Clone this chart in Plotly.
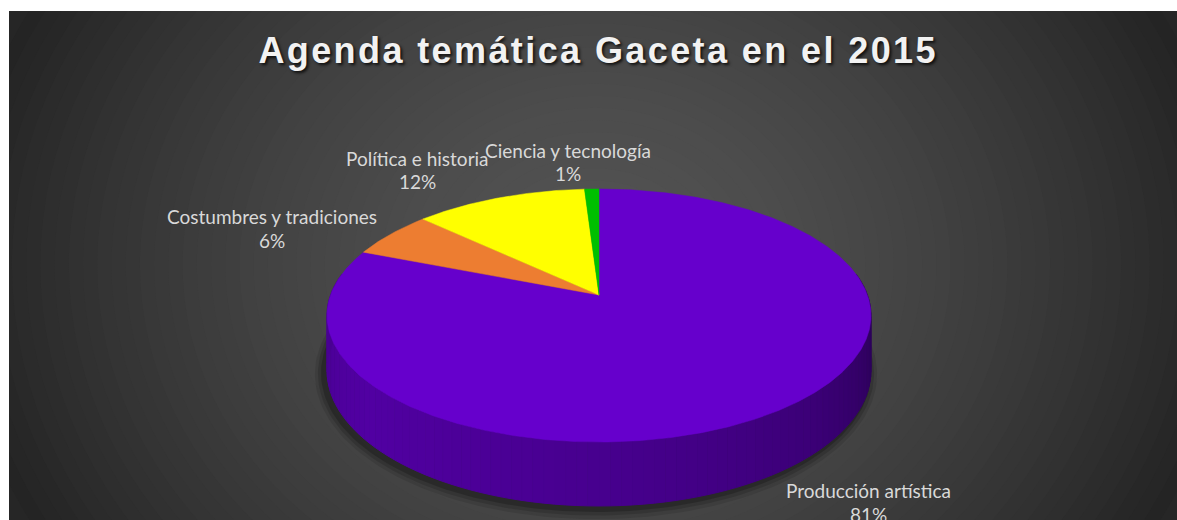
import numpy as np
import plotly.graph_objects as go

# ---------------- data ----------------
categories = ["Producción artística", "Costumbres y tradiciones",
              "Política e historia", "Ciencia y tecnología"]
values = [81, 6, 12, 1]
title_text = "Agenda temática Gaceta en el 2015"

# ---------------- style ----------------
slice_colors = ["#6600CC", "#ED7D31", "#FFFF00", "#00C000"]
# label anchor positions in pixel space: (x, y of name, y of percent)
label_positions = [(868, 490, 514), (272, 216, 240), (417, 158, 181), (568, 150, 173)]

W, H = 1177, 520
LEFT, TOP = 9, 11
CX, CY = 599, 295          # projected pie centre
A, B, K = 268.4, 123.2, 0.162
DEPTH = 53.6


def proj(theta_deg, depth=0.0, grow=0.0):
    t = np.radians(theta_deg)
    xd = np.sin(t)
    zd = -np.cos(t)
    s = 1.0 / (1.0 - K * zd)
    return CX + (A + grow) * xd * s, CY + (B + grow) * zd * s + depth * s


def hex_rgb(h):
    h = h.lstrip("#")
    return tuple(int(h[i:i + 2], 16) for i in (0, 2, 4))


fig = go.Figure()

# background radial gradient (shapes)
shapes = []
N = 45
gcx, gcy, rx_out, ry_f = 595, 265, 640, 0.85
for i in range(N):
    r = 1 - i / N
    v = int(round(83 - 47 * r ** 1.6))
    rx = rx_out * r
    ry = rx * ry_f
    shapes.append(dict(type="circle", xref="x", yref="y", layer="below",
                       x0=gcx - rx, x1=gcx + rx, y0=gcy - ry, y1=gcy + ry,
                       fillcolor=f"rgb({v},{v},{v})", line=dict(width=0)))

# shadow under pie
for grow, op in [(9, 0.10), (6, 0.14), (3, 0.2)]:
    th = np.linspace(0, 360, 241)
    sx, sy = proj(th, DEPTH + 2, grow)
    fig.add_trace(go.Scatter(x=sx - 3, y=sy, fill="toself", mode="lines",
                             line=dict(width=0), fillcolor=f"rgba(0,0,0,{op})",
                             hoverinfo="skip", showlegend=False))

# slice angles (clockwise from 12 o'clock)
total = float(sum(values))
bounds = np.concatenate([[0], np.cumsum(values) / total * 360.0])

# side shading along the visible rim
shade_th = [60, 100, 140, 180, 230, 262, 300]
shade_f = [0.42, 0.45, 0.60, 0.70, 0.80, 0.73, 0.70]

step = 2.0
th = 80.0
while th < 280.0 - 1e-9:
    t1, t2 = th, th + step
    mid = (t1 + t2) / 2
    idx = int(np.searchsorted(bounds, mid, side="right") - 1)
    idx = min(max(idx, 0), len(values) - 1)
    r, g, b = hex_rgb(slice_colors[idx])
    f = float(np.interp(mid, shade_th, shade_f))
    col = f"rgb({int(r * f)},{int(g * f)},{int(b * f)})"
    a_th = np.linspace(t1, t2, 3)
    x_top, y_top = proj(a_th)
    x_bot, y_bot = proj(a_th[::-1], DEPTH)
    fig.add_trace(go.Scatter(x=np.concatenate([x_top, x_bot]),
                             y=np.concatenate([y_top, y_bot]),
                             fill="toself", mode="lines",
                             line=dict(width=1, color=col), fillcolor=col,
                             hoverinfo="skip", showlegend=False))
    th += step

# top faces
for i, cat in enumerate(categories):
    a_th = np.linspace(bounds[i], bounds[i + 1], max(3, int((bounds[i + 1] - bounds[i]) * 2)))
    ax_, ay_ = proj(a_th)
    xs = np.concatenate([[CX], ax_, [CX]])
    ys = np.concatenate([[CY], ay_, [CY]])
    fig.add_trace(go.Scatter(x=xs, y=ys, fill="toself", mode="lines",
                             line=dict(width=0.5, color=slice_colors[i]),
                             fillcolor=slice_colors[i], name=cat,
                             hoverinfo="name", showlegend=False))

# labels
annotations = []
lab_font = dict(family="Lato, Carlito, 'Open Sans', sans-serif", size=19, color="#D9D9D9")
for i, cat in enumerate(categories):
    pct = int(round(values[i] / total * 100))
    lx, ly1, ly2 = label_positions[i]
    annotations.append(dict(x=lx, y=ly1, xref="x", yref="y", text=cat, showarrow=False,
                            xanchor="center", yanchor="middle", font=lab_font))
    annotations.append(dict(x=lx, y=ly2, xref="x", yref="y", text=f"{pct}%", showarrow=False,
                            xanchor="center", yanchor="middle", font=lab_font))

annotations.append(dict(x=598, y=50, xref="x", yref="y", text=title_text, showarrow=False,
                        xanchor="center", yanchor="middle",
                        font=dict(family="Liberation Sans, Arial, sans-serif", size=36,
                                  color="#F2F2F2", weight="bold",
                                  shadow="2px 2px 3px rgba(0,0,0,0.75)")))

fig.update_layout(
    width=W, height=H,
    margin=dict(l=LEFT, r=0, t=TOP, b=0),
    paper_bgcolor="white", plot_bgcolor="#262626",
    xaxis=dict(range=[LEFT, W], visible=False, fixedrange=True),
    yaxis=dict(range=[H, TOP], visible=False, fixedrange=True),
    shapes=shapes, annotations=annotations, showlegend=False,
)

post = (
    "document.body.style.margin='0';document.body.style.overflow='hidden';"
    "document.querySelectorAll('.annotation-text').forEach(function(e){"
    "if(e.textContent.indexOf('Agenda')===0){e.style.letterSpacing='2.4px';}});"
)
fig.write_html("out.html", config={"displayModeBar": False}, post_script=post)
